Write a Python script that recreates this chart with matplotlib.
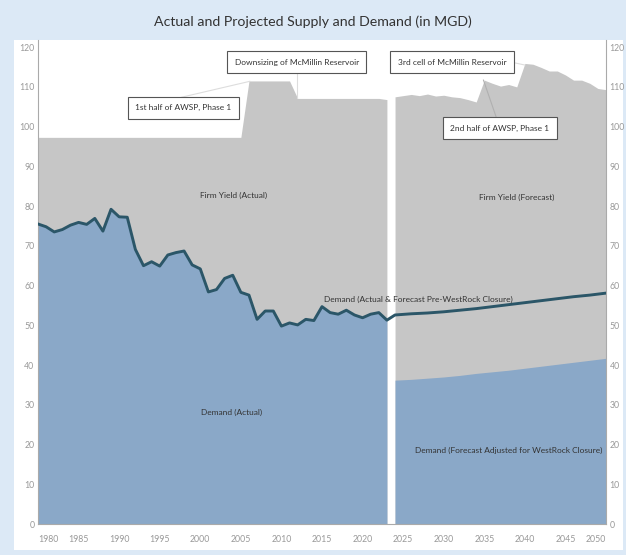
import matplotlib
matplotlib.use("Agg")
from matplotlib import pyplot as plt
from matplotlib.patches import Rectangle

plt.rcParams['font.family'] = ['Lato', 'DejaVu Sans']

# actual demand (MGD), 1980-2023
dem_years = list(range(1980, 2024))
dem_actual = [75.5, 74.8, 73.5, 74.1, 75.2, 75.9, 75.4, 76.9, 73.7, 79.2,
              77.3, 77.2, 69.1, 65.0, 66.0, 64.9, 67.7, 68.3, 68.7, 65.2,
              64.2, 58.4, 59.0, 61.8, 62.6, 58.3, 57.6, 51.5, 53.6, 53.6,
              49.8, 50.6, 50.1, 51.5, 51.2, 54.7, 53.2, 52.8, 53.8, 52.6,
              51.9, 52.8, 53.2, 51.3]

# forecast demand
fc_years = [2024, 2026, 2028, 2030, 2032, 2034, 2036, 2038, 2040, 2042, 2044, 2046, 2048, 2050]
dem_pre_westrock = [52.6, 52.9, 53.1, 53.4, 53.8, 54.2, 54.7, 55.2, 55.7, 56.2, 56.7, 57.2, 57.6, 58.1]
dem_adjusted = [36.2, 36.4, 36.7, 37.0, 37.4, 37.9, 38.3, 38.7, 39.2, 39.7, 40.2, 40.7, 41.2, 41.7]

# firm yield
fy_act_years = [1980, 2005, 2006, 2011, 2012, 2022, 2023]
fy_actual = [97.3, 97.3, 111.5, 111.5, 107.1, 107.1, 106.8]
fy_fc_years = list(range(2024, 2051))
fy_forecast = [107.5, 107.8, 108.1, 107.8, 108.2, 107.7, 107.9, 107.5, 107.3, 106.8,
               106.2, 111.7, 110.9, 110.2, 110.6, 110.0, 115.9, 115.7, 114.9, 114.0,
               114.0, 113.0, 111.7, 111.7, 110.9, 109.6, 109.3]

gray = "#c6c6c6"
blue = "#8aa8c8"
line_col = "#2b5668"
band = "#dce9f6"

fig = plt.figure(figsize=(6.26, 5.55), dpi=100, facecolor=band)
fig.patches.append(Rectangle((14/626, 5/555), (623-14)/626, (515-5)/555,
                             transform=fig.transFigure, facecolor="white",
                             edgecolor="none", zorder=-1))
fig.text(0.5, 1 - 22/555, "Actual and Projected Supply and Demand (in MGD)",
         ha="center", va="center", fontsize=10.2, color="#333333")

ax = fig.add_axes([38/626, 31/555, 568/626, 484/555])
ax.set_facecolor("white")

ax.fill_between(fy_act_years, fy_actual, color=gray, lw=0)
ax.fill_between(fy_fc_years, fy_forecast, color=gray, lw=0)
ax.fill_between(dem_years, dem_actual, color=blue, lw=0)
ax.fill_between(fc_years, dem_adjusted, color=blue, lw=0)
ax.plot(dem_years + fc_years, dem_actual + dem_pre_westrock, color=line_col, lw=2.1, zorder=3)

ax.set_xlim(1980, 2050)
ax.set_ylim(0, 121.8)

ticks = list(range(1980, 2051, 5))
ax.set_xticks(ticks)
ax.set_xticklabels([str(t) for t in ticks])
labs = ax.get_xticklabels()
labs[0].set_ha("left")
labs[-1].set_ha("right")
ax.set_yticks(range(0, 121, 10))
ax.tick_params(axis="both", length=0, labelsize=6.3, labelcolor="#999999")
ax.tick_params(axis="x", pad=8)
ax.tick_params(axis="y", labelright=True, pad=2.5)
ax.tick_params(axis="y", which="major", labelleft=True)
for s in ["left", "bottom", "right"]:
    ax.spines[s].set_color("#aaaaaa")
    ax.spines[s].set_linewidth(0.8)
ax.spines["top"].set_visible(False)

# area labels
lab = dict(fontsize=6, color="#333333", ha="center", va="center", zorder=4)
ax.text(2004.1, 82.8, "Firm Yield (Actual)", **lab)
ax.text(2039.0, 82.3, "Firm Yield (Forecast)", **lab)
ax.text(2003.9, 28.2, "Demand (Actual)", **lab)
ax.text(2026.9, 56.6, "Demand (Actual & Forecast Pre-WestRock Closure)", **lab)
ax.text(2049.6, 18.4, "Demand (Forecast Adjusted for WestRock Closure)",
        fontsize=6, color="#333333", ha="right", va="center", zorder=4)

# callouts
conn = "#dddddd"
ax.plot([1997.7, 2006.1], [107.4, 111.4], color=conn, lw=0.8, zorder=2)
ax.plot([2011.9, 2011.9], [113.6, 107.2], color=conn, lw=0.8, zorder=2)
ax.plot([2038.4, 2040.0], [116.2, 115.5], color=conn, lw=0.8, zorder=2)
ax.plot([2034.9, 2036.6], [111.7, 101.6], color="#b0b0b0", lw=0.8, zorder=2)

box = dict(boxstyle="square,pad=0.9", facecolor="white", edgecolor="#555555", lw=0.8)
ann = dict(fontsize=6, color="#333333", ha="center", va="center", bbox=box, zorder=5)
ax.text(2011.9, 116.2, "Downsizing of McMillin Reservoir", **ann)
ax.text(1997.9, 104.7, "1st half of AWSP, Phase 1", **ann)
ax.text(2031.0, 116.2, "3rd cell of McMillin Reservoir", **ann)
ax.text(2036.9, 99.6, "2nd half of AWSP, Phase 1", **ann)

fig.savefig("out.png", dpi=100, facecolor=band)
